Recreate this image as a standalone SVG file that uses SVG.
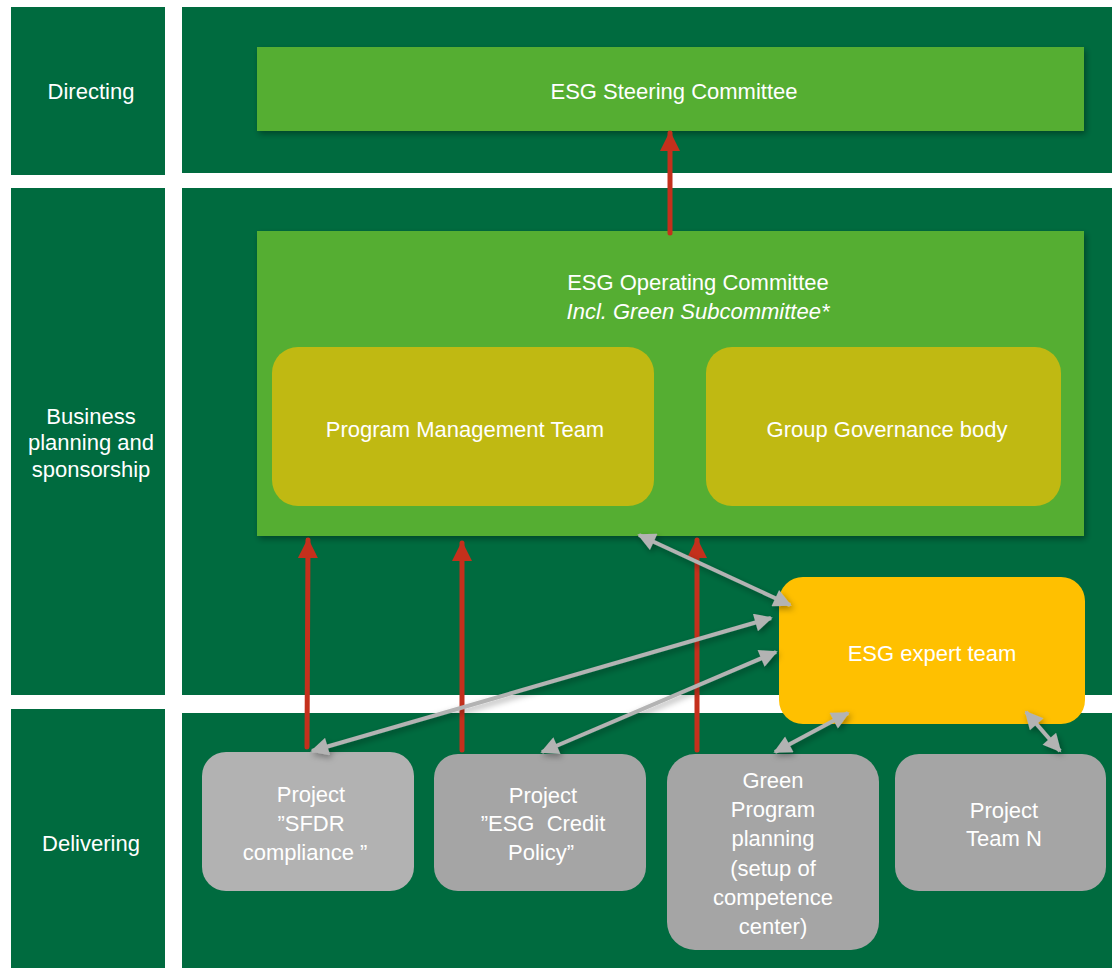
<svg xmlns="http://www.w3.org/2000/svg" width="1112" height="968" viewBox="0 0 1112 968">
<style>
.band{fill:#006b3f}
.t{font-family:"Liberation Sans",Arial,sans-serif;font-size:22px;fill:#ffffff;text-anchor:middle}
.it{font-style:italic}
.red{stroke:#c4301c;stroke-width:5;stroke-linecap:round;fill:none}
.gry{stroke:#b3b3b3;stroke-width:4;fill:none}
</style>
<defs>
<filter id="sh" x="-10%" y="-10%" width="130%" height="130%">
<feDropShadow dx="2" dy="3" stdDeviation="3" flood-color="#000" flood-opacity="0.35"/>
</filter>
<marker id="ra" viewBox="0 0 10 10" refX="9" refY="5" markerWidth="4" markerHeight="4" markerUnits="strokeWidth" orient="auto">
<path d="M0,0 L10,5 L0,10 z" fill="#c4301c"/>
</marker>
<marker id="ga" viewBox="0 0 10 10" refX="9" refY="5" markerWidth="5" markerHeight="4.5" markerUnits="strokeWidth" orient="auto-start-reverse">
<path d="M0,0 L10,5 L0,10 z" fill="#b3b3b3"/>
</marker>
</defs>
<rect width="1112" height="968" fill="#ffffff"/>
<g id="bands">
<rect class="band" x="11" y="7" width="154" height="168"/>
<rect class="band" x="11" y="188" width="154" height="507"/>
<rect class="band" x="11" y="709" width="154" height="259"/>
<rect class="band" x="182" y="7" width="930" height="166"/>
<rect class="band" x="182" y="188" width="930" height="507"/>
<rect class="band" x="182" y="713" width="930" height="255"/>
<text class="t" x="91" y="99">Directing</text>
<text class="t" x="91" y="424">Business</text>
<text class="t" x="91" y="450">planning and</text>
<text class="t" x="91" y="477">sponsorship</text>
<text class="t" x="91" y="851">Delivering</text>
</g>
<g id="steering">
<rect x="257" y="47" width="827" height="84" fill="#54ae32" filter="url(#sh)"/>
<text class="t" x="674" y="99">ESG Steering Committee</text>
</g>
<g id="operating">
<rect x="257" y="231" width="827" height="305" fill="#54ae32" filter="url(#sh)"/>
<text class="t" x="698" y="290">ESG Operating Committee</text>
<text class="t it" x="698" y="319">Incl. Green Subcommittee*</text>
</g>
<g id="pmt">
<rect x="272" y="347" width="382" height="159" rx="26" fill="#c0b912"/>
<text class="t" x="465" y="437">Program Management Team</text>
</g>
<g id="ggb">
<rect x="706" y="347" width="355" height="159" rx="26" fill="#c0b912"/>
<text class="t" x="887" y="437">Group Governance body</text>
</g>
<g id="expert">
<rect x="779" y="577" width="306" height="147" rx="24" fill="#ffc000"/>
<text class="t" x="932" y="661">ESG expert team</text>
</g>
<g id="sfdr">
<rect x="202" y="752" width="212" height="139" rx="24" fill="#b2b2b2"/>
<text class="t" x="311" y="802">Project</text>
<text class="t" x="311" y="831">”SFDR</text>
<text class="t" x="305" y="860">compliance ”</text>
</g>
<g id="credit">
<rect x="434" y="754" width="212" height="137" rx="24" fill="#a5a5a5"/>
<text class="t" x="543" y="803">Project</text>
<text class="t" x="543" y="831">”ESG&#160; Credit</text>
<text class="t" x="541" y="860">Policy”</text>
</g>
<g id="green">
<rect x="667" y="754" width="212" height="196" rx="28" fill="#a5a5a5"/>
<text class="t" x="773" y="788">Green</text>
<text class="t" x="773" y="817">Program</text>
<text class="t" x="773" y="846">planning</text>
<text class="t" x="773" y="876">(setup of</text>
<text class="t" x="773" y="905">competence</text>
<text class="t" x="773" y="934">center)</text>
</g>
<g id="teamn">
<rect x="895" y="754" width="211" height="137" rx="24" fill="#a5a5a5"/>
<text class="t" x="1004" y="818">Project</text>
<text class="t" x="1004" y="846">Team N</text>
</g>
<g id="connectors">
<line class="red" x1="670" y1="233" x2="670" y2="133" marker-end="url(#ra)"/>
<line class="red" x1="307" y1="747" x2="308" y2="540" marker-end="url(#ra)"/>
<line class="red" x1="462" y1="750" x2="462" y2="543" marker-end="url(#ra)"/>
<line class="red" x1="697" y1="750" x2="697" y2="540" marker-end="url(#ra)"/>
<g filter="url(#sh)">
<line class="gry" x1="639" y1="535" x2="790" y2="605" marker-start="url(#ga)" marker-end="url(#ga)"/>
<line class="gry" x1="312" y1="751" x2="771" y2="618" marker-start="url(#ga)" marker-end="url(#ga)"/>
<line class="gry" x1="542" y1="752" x2="776" y2="652" marker-start="url(#ga)" marker-end="url(#ga)"/>
<line class="gry" x1="775" y1="752" x2="848" y2="713" marker-start="url(#ga)" marker-end="url(#ga)"/>
<line class="gry" x1="1026" y1="712" x2="1060" y2="751" marker-start="url(#ga)" marker-end="url(#ga)"/>
</g>
</g>
</svg>
